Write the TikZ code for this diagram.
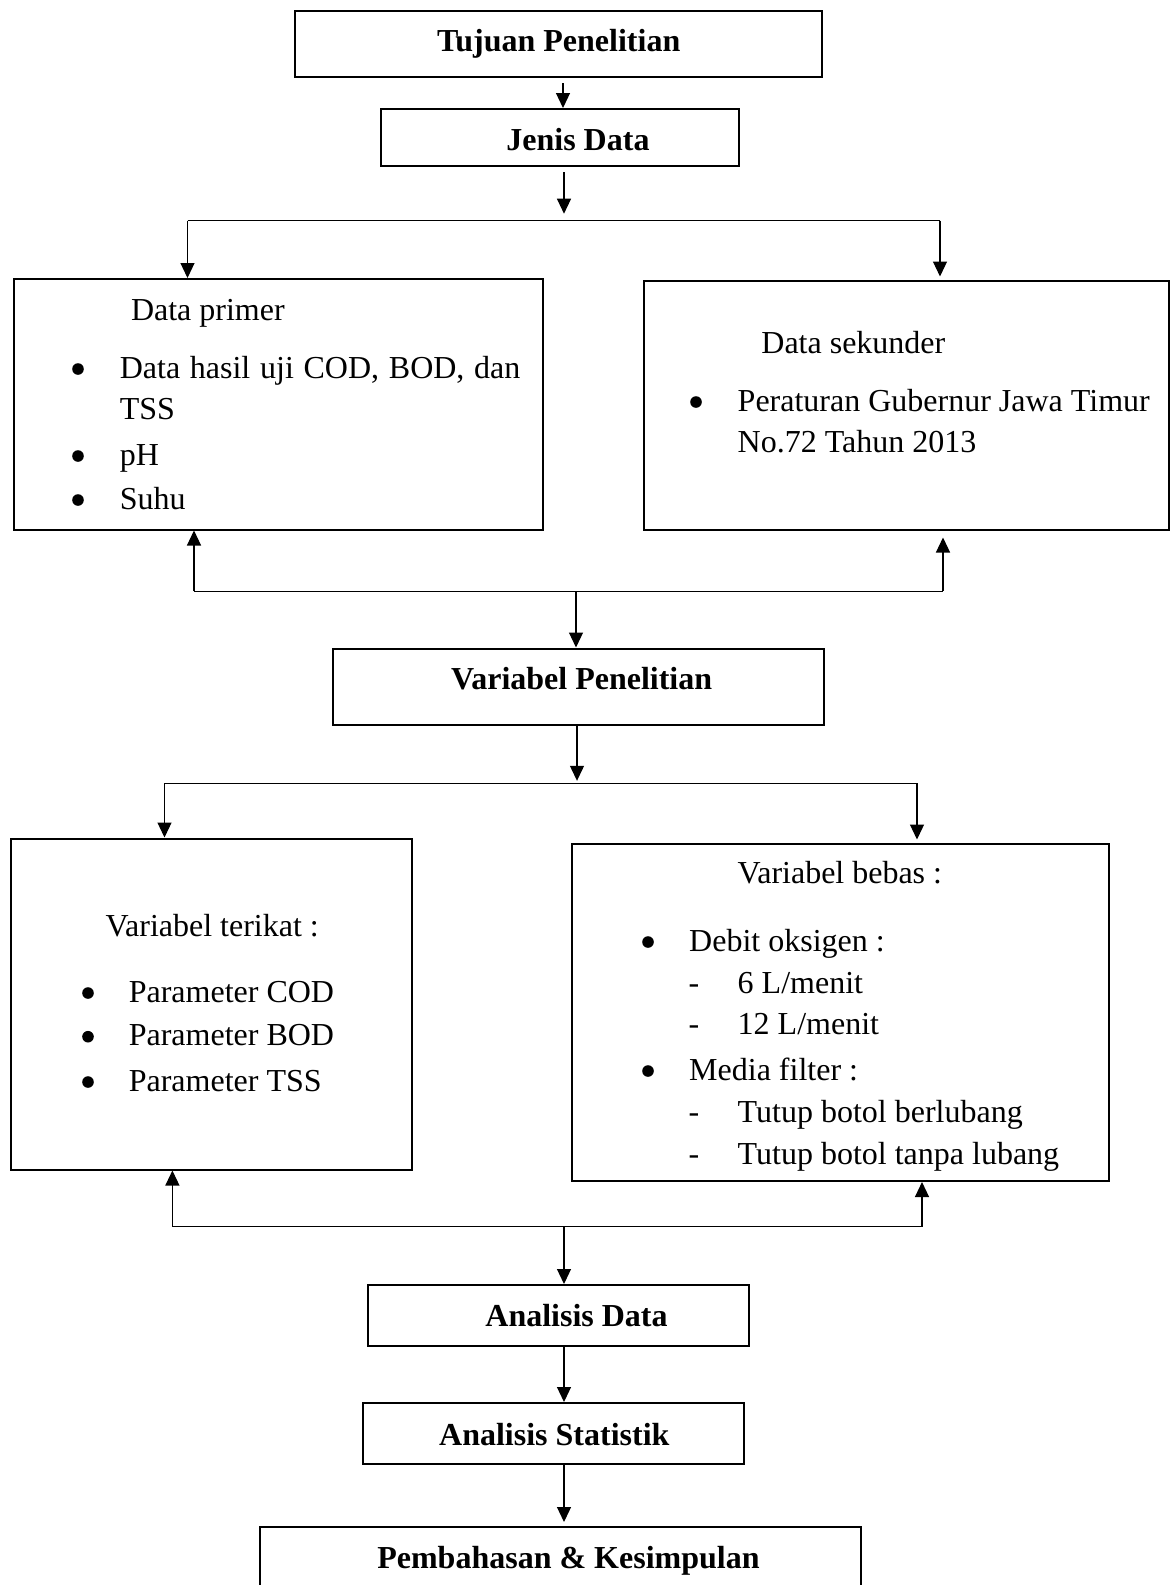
\documentclass[tikz,border=0pt]{standalone}
\usepackage{fontspec}
\setmainfont{Liberation Serif}
\usetikzlibrary{arrows.meta}
\begin{document}
\begin{tikzpicture}[x=0.5pt,y=-0.5pt,
  box/.style={draw, line width=1pt, inner sep=0pt, rectangle},
  conn/.style={line width=0.6pt},
  arr/.style={conn, -{Triangle[length=7.5pt,width=7pt]}},
  txt/.style={inner sep=0pt, anchor=base west, font=\fontsize{16}{19}\selectfont},
  btxt/.style={inner sep=0pt, anchor=base west, font=\fontsize{16}{19}\selectfont\bfseries},
  bul/.style={circle, fill, inner sep=0pt, minimum size=5.8pt},
  dsh/.style={inner sep=0pt, anchor=base, font=\fontsize{16}{19}\selectfont}]
\useasboundingbox (0,0) rectangle (1170,1585);

% boxes
\node[box, minimum width=263.5pt, minimum height=33pt] (tujuan) at (558.5,44) {};
\node[box, minimum width=179pt, minimum height=28.5pt] (jenis) at (560,137.5) {};
\node[box, minimum width=264.5pt, minimum height=125.25pt] (primer) at (278,404.25) {};
\node[box, minimum width=262.5pt, minimum height=124.5pt] (sekunder) at (906,405) {};
\node[box, minimum width=245.5pt, minimum height=38pt] (varpen) at (578.5,686.5) {};
\node[box, minimum width=200.5pt, minimum height=165.5pt] (terikat) at (211.5,1004) {};
\node[box, minimum width=268.75pt, minimum height=168.75pt] (bebas) at (840.25,1012.25) {};
\node[box, minimum width=190.25pt, minimum height=30.25pt] (andata) at (558.25,1315.25) {};
\node[box, minimum width=190.75pt, minimum height=30.5pt] (anstat) at (553.25,1433.5) {};
\node[box, minimum width=300.25pt, minimum height=46.5pt] (pemb) at (560.25,1573.5) {};

% texts
\node[btxt] (t1) at (436.6,51.7) {Tujuan Penelitian};
\node[btxt] (t2) at (506,150.5) {Jenis Data};

\node[txt] (p0) at (130.6,320) {Data primer};
\node[bul] (pb1) at (78,369) {};
\node[txt] (p1) at (119.4,378) {\makebox[200.3pt][s]{Data hasil uji COD, BOD, dan}};
\node[txt] (p2) at (119.4,419.5) {TSS};
\node[bul] (pb2) at (78,456) {};
\node[txt] (p3) at (119.4,465) {pH};
\node[bul] (pb3) at (78,500) {};
\node[txt] (p4) at (119.4,509) {Suhu};

\node[txt] (s0) at (761,353) {Data sekunder};
\node[bul] (sb1) at (696,402) {};
\node[txt] (s1t) at (737.3,411) {Peraturan Gubernur Jawa Timur};
\node[txt] (s2t) at (737.3,452) {No.72 Tahun 2013};

\node[btxt] (t3) at (450.7,689.6) {Variabel Penelitian};

\node[txt] (r0) at (105.2,936) {Variabel terikat :};
\node[bul] (rb1) at (88,993) {};
\node[txt] (r1) at (128.4,1002) {Parameter COD};
\node[bul] (rb2) at (88,1036.7) {};
\node[txt] (r2) at (128.4,1045.7) {Parameter BOD};
\node[bul] (rb3) at (88,1082) {};
\node[txt] (r3) at (128.4,1091) {Parameter TSS};

\node[txt] (b0) at (737.3,883.6) {Variabel bebas :};
\node[bul] (bb1) at (648,942) {};
\node[txt] (b1) at (688.8,951) {Debit oksigen :};
\node[dsh] (bd1) at (694,993) {-};
\node[txt] (b2) at (737.3,993) {6 L/menit};
\node[dsh] (bd2) at (694,1034.3) {-};
\node[txt] (b3) at (737.3,1034.3) {12 L/menit};
\node[bul] (bb2) at (648,1071) {};
\node[txt] (b4) at (688.8,1080) {Media filter :};
\node[dsh] (bd3) at (694,1122) {-};
\node[txt] (b5) at (737.3,1122) {Tutup botol berlubang};
\node[dsh] (bd4) at (694,1164) {-};
\node[txt] (b6) at (737.3,1164) {Tutup botol tanpa lubang};

\node[btxt] (t4) at (485,1326) {Analisis Data};
\node[btxt] (t5) at (438.8,1445) {Analisis Statistik};
\node[btxt] (t6) at (376.9,1568) {Pembahasan \& Kesimpulan};

% junction coordinates
\coordinate (c1) at (563,0);
\coordinate (s1) at (564,220.7);
\coordinate (s1l) at (187.5,220.7);
\coordinate (s1r) at (940,220.7);
\coordinate (m1) at (576,591.4);
\coordinate (m1l) at (194,591.4);
\coordinate (m1r) at (943,591.4);
\coordinate (s2) at (577,783.2);
\coordinate (s2l) at (164.5,783.2);
\coordinate (s2r) at (917,783.2);
\coordinate (m2) at (564,1226.7);
\coordinate (m2l) at (172.4,1226.7);
\coordinate (m2r) at (922,1226.7);

% connectors
\draw[arr, shorten <=2.5pt] (tujuan.south -| c1) -- (jenis.north -| c1);
\draw[arr, shorten <=2.5pt, shorten >=3.5pt] (jenis.south -| s1) -- (s1);
\draw[conn] (s1l) -- (s1r);
\draw[arr] (s1l) -- (primer.north -| s1l);
\draw[arr, shorten >=1.5pt] (s1r) -- (sekunder.north -| s1r);

\draw[conn] (m1l) -- (m1r);
\draw[arr] (m1l) -- (primer.south -| m1l);
\draw[arr, shorten >=3.5pt] (m1r) -- (sekunder.south -| m1r);
\draw[arr] (m1) -- (varpen.north -| m1);

\draw[arr, shorten >=1.2pt] (varpen.south -| s2) -- (s2);
\draw[conn] (s2l) -- (s2r);
\draw[arr] (s2l) -- (terikat.north -| s2l);
\draw[arr, shorten >=1.5pt] (s2r) -- (bebas.north -| s2r);

\draw[conn] (m2l) -- (m2r);
\draw[arr] (m2l) -- (terikat.south -| m2l);
\draw[arr] (m2r) -- (bebas.south -| m2r);
\draw[arr] (m2) -- (andata.north -| m2);
\draw[arr] (andata.south -| m2) -- (anstat.north -| m2);
\draw[arr, shorten >=2pt] (anstat.south -| m2) -- (pemb.north -| m2);
\end{tikzpicture}
\end{document}
